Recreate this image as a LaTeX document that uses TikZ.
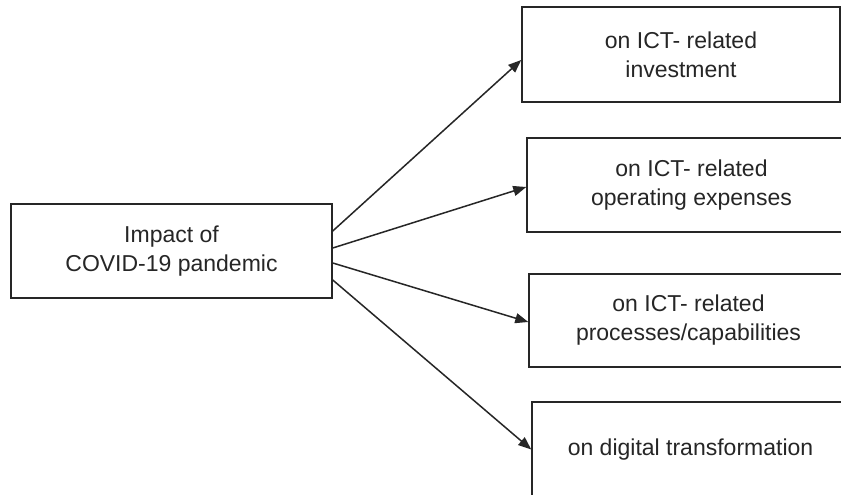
\documentclass[tikz,border=0pt]{standalone}
\usepackage{fontspec}
\setmainfont{Liberation Sans}
\usetikzlibrary{arrows.meta}
\begin{document}
\begin{tikzpicture}[x=1pt,y=-1pt,
  box/.style={draw=black!85,line width=1.5pt,fill=white,inner sep=0pt,align=center,
    text=black!85,font=\fontsize{23}{29}\selectfont},
  conn/.style={draw=black!85,line width=1.5pt,-{Triangle[length=13pt,width=10pt]}}]
\clip (0,0) rectangle (841,495);
\fill[white] (0,0) rectangle (841,495);
\node[box,minimum width=321pt,minimum height=94pt] (L) at (171.5,251) {Impact of\\COVID-19 pandemic};
\node[box,minimum width=318pt,minimum height=95pt] (B1) at (681,54.5) {on ICT- related\\investment};
\node[box,minimum width=329pt,minimum height=94pt] (B2) at (691.5,185) {on ICT- related\\operating expenses};
\node[box,minimum width=319pt,minimum height=93pt] (B3) at (688.5,320.5) {on ICT- related\\processes/capabilities};
\node[box,minimum width=317pt,minimum height=95pt] (B4) at (690.5,449.5) {on digital transformation};
\draw[conn] ([yshift=20pt]L.east) -- ([yshift=-5.5pt]B1.west);
\draw[conn] ([yshift=3pt]L.east) -- ([yshift=-2pt]B2.west);
\draw[conn] ([yshift=-12pt]L.east) -- ([yshift=-1.5pt]B3.west);
\draw[conn] ([yshift=-29pt]L.east) -- (B4.west);
\end{tikzpicture}
\end{document}
